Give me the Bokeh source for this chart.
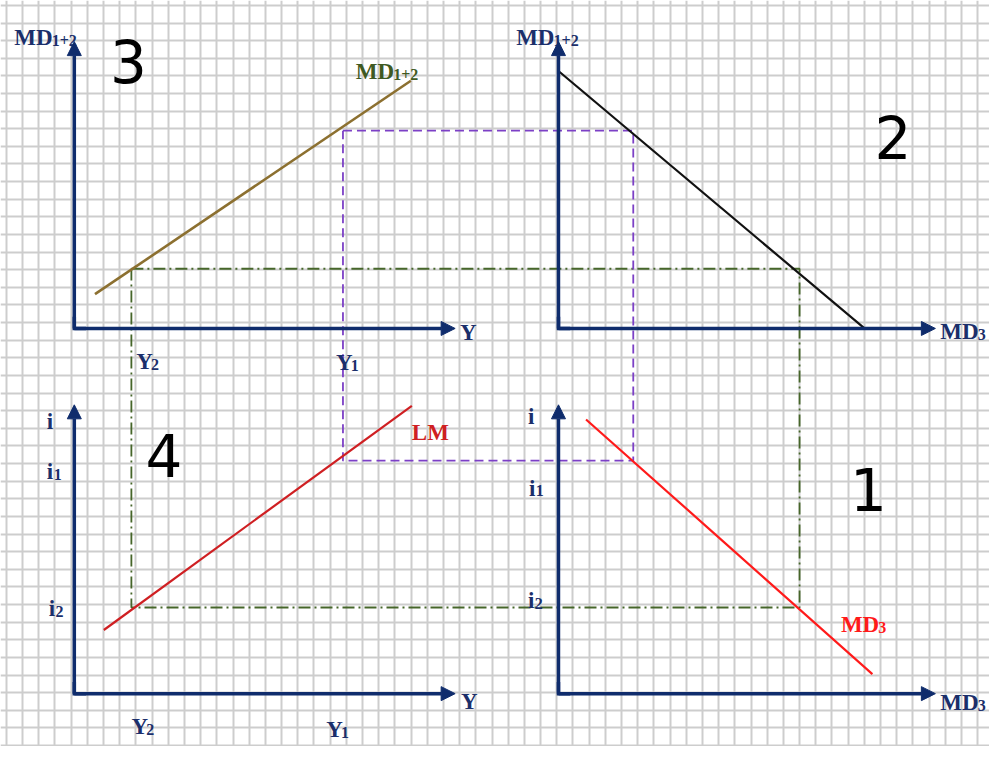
import numpy as np
from bokeh.plotting import figure
from bokeh.models import Range1d, Arrow, NormalHead, Grid, FixedTicker, ColumnDataSource
from bokeh.core.properties import value
from bokeh.embed import file_html
from bokeh.resources import INLINE

# ---------------- data (abstract units, measured from each quadrant's origin) ----------------
income_labels = ["Y2", "Y1"]
income_levels = [5.8, 27.3]          # Y2, Y1
md12_levels = [6.1, 20.2]            # MD1+2 at Y2, Y1
rate_labels = ["i2", "i1"]
rate_levels = [8.8, 23.8]            # i2, i1
md3_levels = [24.5, 7.6]             # MD3 at i2, i1

md12_curve_Y = [2.1, 34.2]           # quadrant 3 : MD1+2 = f(Y)
md12_curve_MD = [3.5, 25.3]
budget_MD3 = [0.0, 31.1]             # quadrant 2 : MD1+2 + MD3 = MD
budget_MD12 = [26.3, 0.0]
lm_Y = [3.0, 34.3]                   # quadrant 4 : LM
lm_i = [6.5, 29.4]
md3_curve_MD3 = [2.8, 31.9]          # quadrant 1 : MD3 = f(i)
md3_curve_i = [28.0, 2.0]

quadrant_numbers = ["1", "2", "3", "4"]

# ---------------- layout (reference pixels) ----------------
UNIT = 10.0
ORIG = {"Q3": (75, 335), "Q2": (567, 335), "Q4": (75, 708), "Q1": (567, 708)}
AXLEN = {"Q3": (38.7, 29.3), "Q2": (38.3, 29.3), "Q4": (38.7, 29.5), "Q1": (38.3, 29.5)}


def qx(q, u):
    return [ORIG[q][0] + UNIT * v for v in np.atleast_1d(u)]


def qy(q, u):
    return [ORIG[q][1] - UNIT * v for v in np.atleast_1d(u)]


NAVY = "#0f2c6c"
LABEL = "#1b2f6b"
SERIF = value("Liberation Serif")

p = figure(width=989, height=746, x_range=Range1d(0, 1005), y_range=Range1d(762, 0),
           x_axis_type=None, y_axis_type=None, toolbar_location=None,
           output_backend="svg", min_border=0, outline_line_color=None,
           background_fill_color="white", border_fill_color="white")

# graph-paper grid
p.add_layout(Grid(dimension=0, ticker=FixedTicker(ticks=list(np.arange(6, 1010, 16.45))),
                  grid_line_color="#cdcdcd", grid_line_width=2))
p.add_layout(Grid(dimension=1, ticker=FixedTicker(ticks=list(np.arange(5, 765, 18.0))),
                  grid_line_color="#cdcdcd", grid_line_width=2))

# dashed connection rectangles
Y2, Y1 = income_levels
M2, M1 = md12_levels
I2, I1 = rate_levels
D2, D1 = md3_levels
green_x = [qx("Q3", Y2)[0], qx("Q2", D2)[0], qx("Q1", D2)[0], qx("Q4", Y2)[0], qx("Q3", Y2)[0]]
green_y = [qy("Q3", M2)[0], qy("Q2", M2)[0], qy("Q1", I2)[0], qy("Q4", I2)[0], qy("Q3", M2)[0]]
purple_x = [qx("Q3", Y1)[0], qx("Q2", D1)[0], qx("Q1", D1)[0], qx("Q4", Y1)[0], qx("Q3", Y1)[0]]
purple_y = [qy("Q3", M1)[0], qy("Q2", M1)[0], qy("Q1", I1)[0], qy("Q4", I1)[0], qy("Q3", M1)[0]]
p.line(green_x, green_y, line_color="#46662a", line_width=1.8, line_dash="12 4 2 4")
p.line(purple_x, purple_y, line_color="#7c40c6", line_width=1.8, line_dash="9 5")

# curves
p.line(qx("Q3", md12_curve_Y), qy("Q3", md12_curve_MD), line_color="#8c7030", line_width=2.6)
p.line(qx("Q2", budget_MD3), qy("Q2", budget_MD12), line_color="#111111", line_width=2.2)
p.line(qx("Q4", lm_Y), qy("Q4", lm_i), line_color="#cf1f22", line_width=2.2)
p.line(qx("Q1", md3_curve_MD3), qy("Q1", md3_curve_i), line_color="#ff1a1a", line_width=2.2)

# axes with arrow heads
for q, (lx, ly) in AXLEN.items():
    ox, oy = ORIG[q]
    p.add_layout(Arrow(end=NormalHead(size=14, fill_color=NAVY, line_color=NAVY, line_width=1),
                       x_start=ox, y_start=oy, x_end=qx(q, lx)[0], y_end=oy,
                       line_color=NAVY, line_width=3.5))
    p.add_layout(Arrow(end=NormalHead(size=14, fill_color=NAVY, line_color=NAVY, line_width=1),
                       x_start=ox, y_start=oy, x_end=ox, y_end=qy(q, ly)[0],
                       line_color=NAVY, line_width=3.5))
    p.line([ox, ox, ox + 12], [oy - 12, oy, oy], line_color=NAVY, line_width=3.5,
           line_join="miter")


def label(x, y, main, sub="", color=LABEL, size=23, sub_dx=None):
    p.text(x=[x], y=[y], text=[main], text_font=SERIF, text_font_style="bold",
           text_font_size=f"{size}px", text_color=color, text_align="left",
           text_baseline="alphabetic")
    if sub:
        dx = sub_dx if sub_dx is not None else 0.62 * size * len(main)
        p.text(x=[x + dx], y=[y + 3], text=[sub], text_font=SERIF, text_font_style="bold",
               text_font_size=f"{int(size * 0.7)}px", text_color=color, text_align="left",
               text_baseline="alphabetic")


# quadrant 3
label(14, 38, "MD", "1+2", sub_dx=38)
label(467, 339, "Y")
label(qx("Q3", Y2)[0] + 5, 369, "Y", income_labels[0][1], sub_dx=15)
label(qx("Q3", Y1)[0] - 7, 370, "Y", income_labels[1][1], sub_dx=15)
label(361, 73, "MD", "1+2", color="#3f5a22", sub_dx=38)
# quadrant 2
label(524, 38, "MD", "1+2", sub_dx=38)
label(955, 338, "MD", "3", sub_dx=38)
# quadrant 4
label(47, 430, "i")
label(47, 481, "i", rate_labels[1][1], sub_dx=7)
label(49, 621, "i", rate_labels[0][1], sub_dx=7)
label(468, 716, "Y")
label(qx("Q4", Y2)[0], 742, "Y", income_labels[0][1], sub_dx=15)
label(qx("Q4", Y1)[0] - 17, 745, "Y", income_labels[1][1], sub_dx=15)
label(418, 441, "LM", color="#cf1f22")
# quadrant 1
label(536, 425, "i")
label(537, 498, "i", rate_labels[1][1], sub_dx=7)
label(536, 613, "i", rate_labels[0][1], sub_dx=7)
label(955, 717, "MD", "3", sub_dx=38)
label(854, 637, "MD", "3", color="#ff1a1a", sub_dx=38)

# quadrant numbers (hand-written style)
num_src = ColumnDataSource(dict(x=[882, 907, 130, 166], y=[499, 140, 62, 465],
                                t=quadrant_numbers))
p.text(x="x", y="y", text="t", source=num_src, text_font=value("DejaVu Sans"),
       text_font_size="58px", text_color="#000000", text_align="center",
       text_baseline="middle")

open("out.html", "w").write(file_html(p, INLINE))
